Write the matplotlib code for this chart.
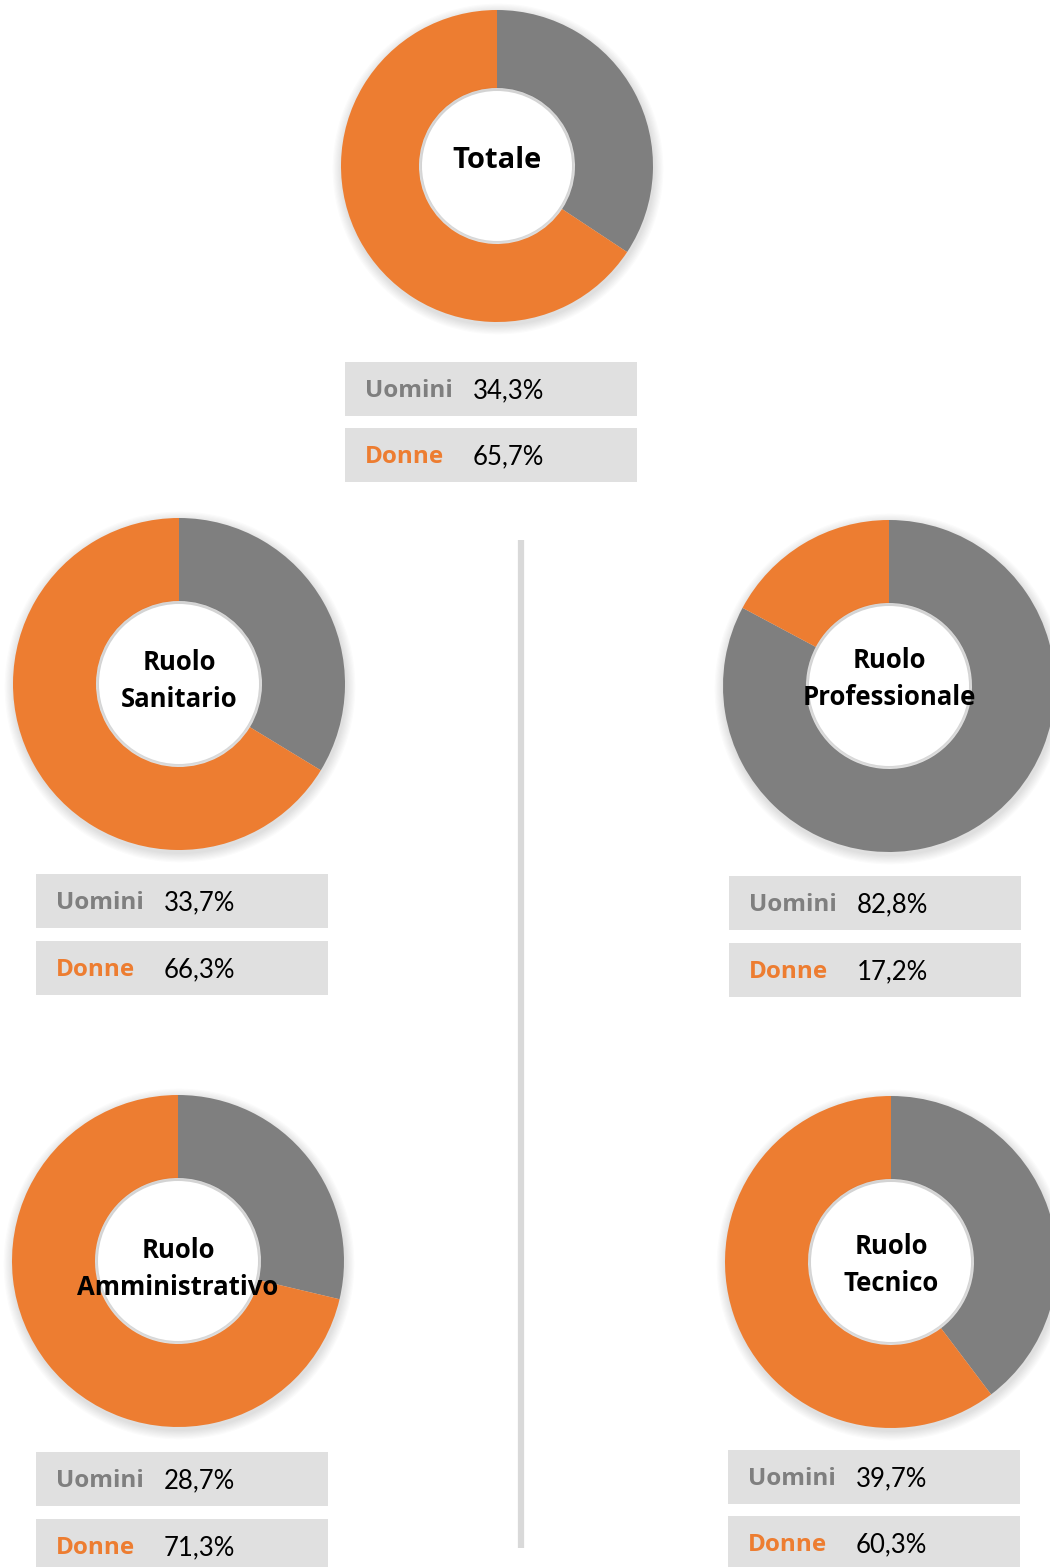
import matplotlib.pyplot as plt
from matplotlib.patches import Circle, Rectangle

plt.rcParams['font.family'] = ['Lato', 'DejaVu Sans']
BOLD_FONT = ['Open Sans', 'DejaVu Sans']

# data
groups = ["Totale", "Ruolo\nSanitario", "Ruolo\nProfessionale",
          "Ruolo\nAmministrativo", "Ruolo\nTecnico"]
uomini = [34.3, 33.7, 82.8, 28.7, 39.7]
donne = [65.7, 66.3, 17.2, 71.3, 60.3]
series_names = ["Uomini", "Donne"]

GREY = "#7f7f7f"
ORANGE = "#ed7d31"
BOX = "#e0e0e0"

W, H = 1050, 1567

# layout in pixels (from top-left): donut center, radius, box left, box top
layout = [
    dict(cx=497, cy=166, r=156, bx=345, by=362, gap=66, title_y=160, fs=21),
    dict(cx=179, cy=684, r=166, bx=36, by=874, gap=67, title_y=681, fs=18.5),
    dict(cx=889, cy=686, r=166, bx=729, by=876, gap=67, title_y=679, fs=18.5),
    dict(cx=178, cy=1261, r=166, bx=36, by=1452, gap=67, title_y=1269, fs=18.5),
    dict(cx=891, cy=1262, r=166, bx=728, by=1450, gap=66, title_y=1265, fs=18.5),
]


def fmt(v):
    return f"{v:.1f}".replace(".", ",") + "%"


fig = plt.figure(figsize=(W / 100, H / 100), dpi=100)
ax = fig.add_axes([0, 0, 1, 1])
ax.set_xlim(0, W)
ax.set_ylim(0, H)
ax.axis("off")

for i, g in enumerate(groups):
    L = layout[i]
    cx, cy = L["cx"], H - L["cy"]
    r = L["r"]

    # soft shadow around the donut
    for k in range(8):
        ax.add_patch(Circle((cx + 1, cy - 3), r + 1 + k * 1.2,
                            color="black", alpha=0.015, lw=0, zorder=1))

    ax.pie([uomini[i], donne[i]], colors=[GREY, ORANGE], startangle=90,
           counterclock=False, center=(cx, cy), radius=r,
           wedgeprops=dict(width=r * 0.5, linewidth=0), frame=True)

    # soft inner shadow of the hole
    for k in range(3):
        ax.add_patch(Circle((cx, cy + 1), r * 0.5 - k * 1.0,
                            color="black", alpha=0.015, lw=0, zorder=3))
    ax.add_patch(Circle((cx, cy), r * 0.5 - 3, color="white", lw=0, zorder=4))

    ax.text(cx, H - L["title_y"], g, ha="center", va="center",
            fontsize=L["fs"], fontweight="bold", color="black",
            family=BOLD_FONT, linespacing=1.5, zorder=6)

    vals = [uomini[i], donne[i]]
    cols = [GREY, ORANGE]
    for j, name in enumerate(series_names):
        top = L["by"] + j * L["gap"]
        ax.add_patch(Rectangle((L["bx"], H - top - 54), 292, 54,
                               color=BOX, lw=0, zorder=2))
        ax.text(L["bx"] + 20, H - top - 29, name, ha="left", va="center",
                fontsize=17.5, fontweight="bold", color=cols[j],
                family=BOLD_FONT, zorder=3)
        ax.text(L["bx"] + 128, H - top - 29, fmt(vals[j]), ha="left",
                va="center", fontsize=18.5, color="black", zorder=3)

# vertical divider
ax.plot([521, 521], [H - 540, H - 1548], color="#d9d9d9", lw=4.5,
        solid_capstyle="butt", zorder=1)

ax.set_xlim(0, W)
ax.set_ylim(0, H)
ax.set_aspect("auto")
fig.savefig("out.png", dpi=100, facecolor="white")
